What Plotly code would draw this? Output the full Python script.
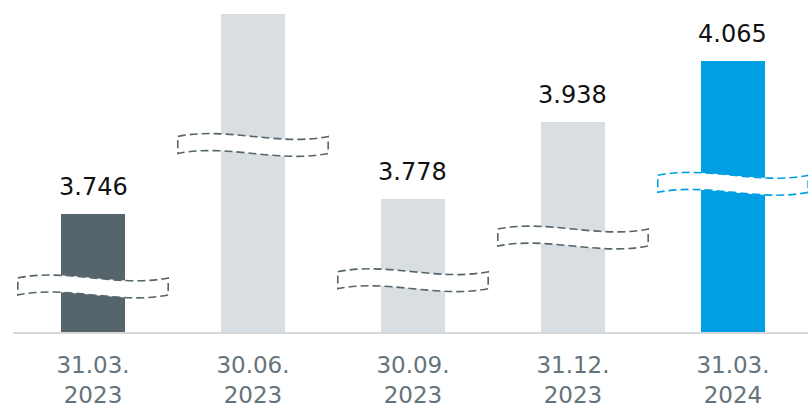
import plotly.graph_objects as go

# ---- data ----
categories = ["31.03.<br>2023", "30.06.<br>2023", "30.09.<br>2023", "31.12.<br>2023", "31.03.<br>2024"]
values = [3.746, 4.163, 3.778, 3.938, 4.065]
label_visible = [True, False, True, True, True]

# ---- style ----
bar_colors = ["#56646b", "#d9dee2", "#d9dee2", "#d9dee2", "#009fe3"]
break_colors = ["#56646b", "#56646b", "#56646b", "#56646b", "#009fe3"]
BREAK_Y = [3.595, 3.890, 3.608, 3.697, 3.809]   # decoration positions (axis break marks)
Y_MIN = 3.5
PX_PER_UNIT_Y = 479.6
PLOT_H = 332
FONT = "DejaVu Sans"

x = list(range(len(categories)))

fig = go.Figure()
fig.add_trace(go.Bar(
    x=x, y=[v - Y_MIN for v in values], base=Y_MIN,
    marker=dict(color=bar_colors, line=dict(width=0)),
    width=0.405, hoverinfo="skip", showlegend=False,
))

# value labels
for xi, v, show in zip(x, values, label_visible):
    if not show:
        continue
    fig.add_annotation(
        x=xi, y=v, xref="x", yref="y",
        text=f"{v:.3f}", showarrow=False,
        yanchor="middle", yshift=27,
        font=dict(family=FONT, size=24, color="#111111"),
    )

# axis break marks
half_w = 0.47
h = 17 / PX_PER_UNIT_Y
a = 10 / PX_PER_UNIT_Y
for xi, yb_mid, col in zip(x, BREAK_Y, break_colors):
    x0, x1 = xi - half_w, xi + half_w
    w = x1 - x0
    yt = yb_mid + h / 2
    yb = yb_mid - h / 2
    path = (
        f"M {x0},{yt} C {x0 + w/3},{yt + a} {x0 + 2*w/3},{yt - a} {x1},{yt} "
        f"L {x1},{yb} C {x0 + 2*w/3},{yb - a} {x0 + w/3},{yb + a} {x0},{yb} Z"
    )
    fig.add_shape(
        type="path", path=path, xref="x", yref="y",
        fillcolor="white", line=dict(color=col, width=1.6, dash="8px,4px"),
        layer="above",
    )

fig.update_layout(
    width=808, height=412,
    margin=dict(l=13, r=0, t=0, b=412 - PLOT_H),
    paper_bgcolor="white", plot_bgcolor="white",
    bargap=0,
)
fig.update_xaxes(
    range=[-0.5, 4.469],
    tickvals=x, ticktext=categories,
    showline=True, linecolor="#d9d9d9", linewidth=2,
    showgrid=False, zeroline=False, ticks="",
    tickfont=dict(family=FONT, size=23, color="#66737b"),
    ticklabelstandoff=11,
)
fig.update_yaxes(
    range=[Y_MIN, Y_MIN + PLOT_H / PX_PER_UNIT_Y],
    visible=False, showgrid=False, zeroline=False,
)

fig.write_html(
    "out.html",
    config={"displayModeBar": False, "staticPlot": True},
    post_script="document.body.style.margin='0';document.body.style.overflow='hidden';",
)
